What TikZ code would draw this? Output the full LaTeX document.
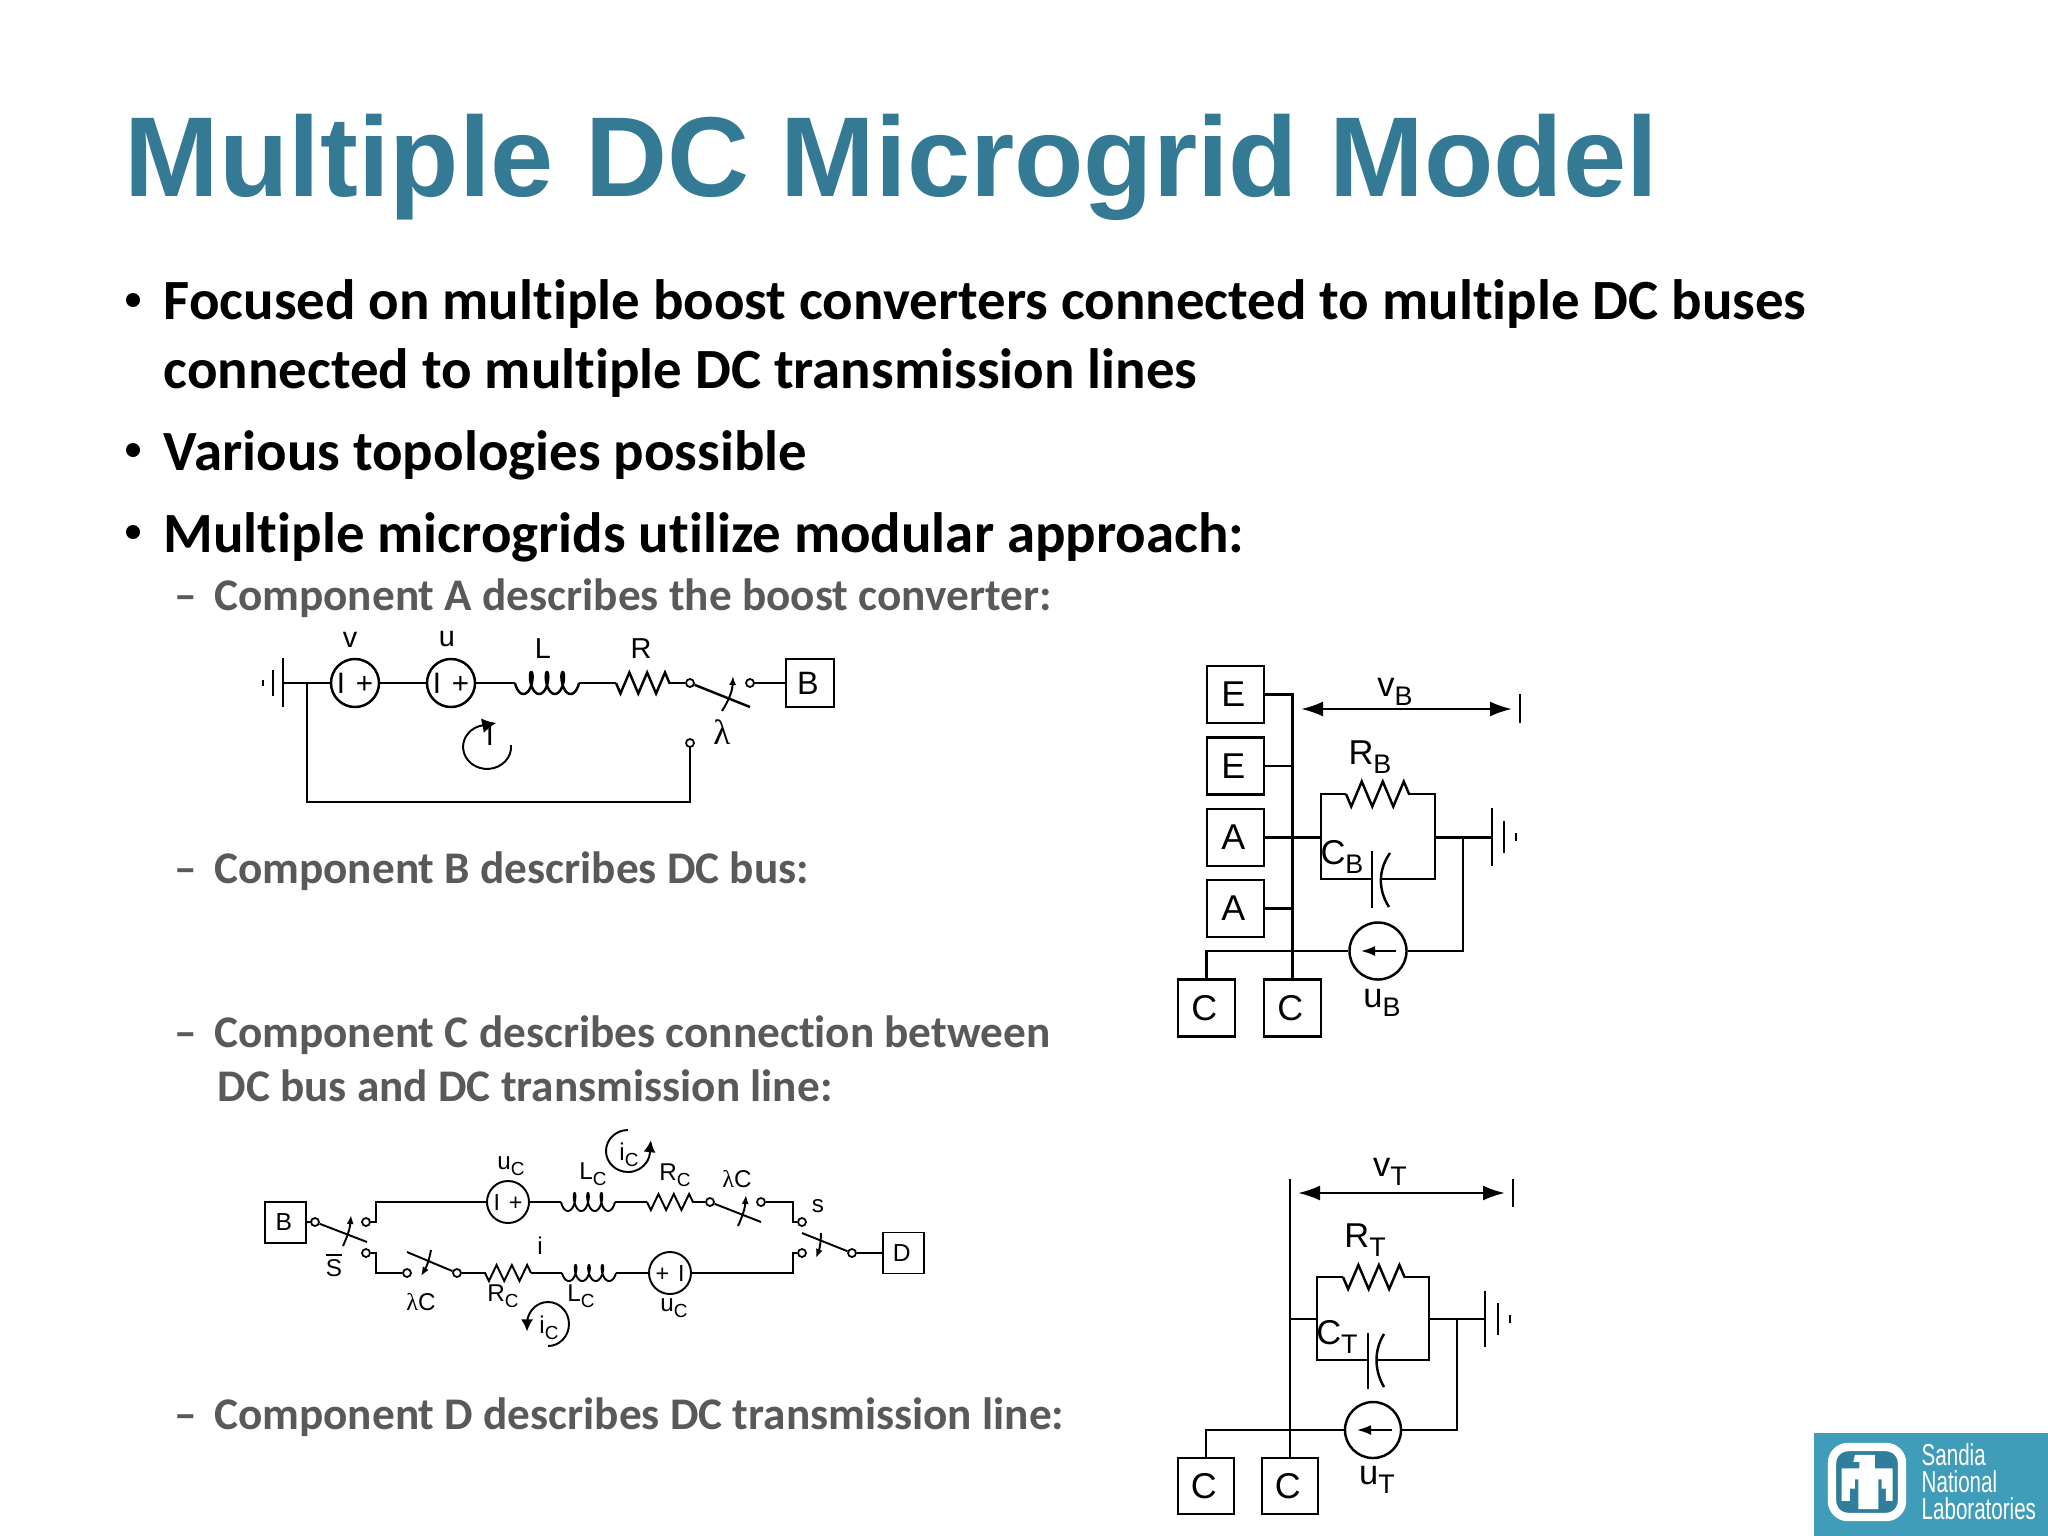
\documentclass[tikz,border=0pt]{standalone}
\usepackage{fontspec}
\setmainfont{Liberation Sans}
\newfontfamily\slidefont[Ligatures=CommonOff]{Carlito}
\newfontfamily\logofont[FakeStretch=0.68]{Liberation Sans}
\newfontfamily\greekfont{Liberation Serif}
\usetikzlibrary{positioning,calc,arrows.meta,decorations.pathmorphing}
\definecolor{titleblue}{HTML}{347A94}
\definecolor{subgray}{HTML}{595959}
\definecolor{logoblue}{HTML}{3F9DB9}
\definecolor{logodark}{HTML}{2F7F9C}
\newcommand\dropsub[1]{\raisebox{-.5ex}{\scalebox{.78}{#1}}}
\newcommand\coilplot[6]{\draw[#1,variable=\t,domain=0:1260,samples=120] plot ({#2+(#4-2*#6)*(\t/1260)+#6*(1-cos(\t))},{#3+#5*sin(\t)});}
\tikzset{
  title/.style={anchor=base west, inner sep=0pt, text=titleblue, font=\fontsize{32.3}{36}\selectfont\bfseries},
  bullet/.style={anchor=base west, inner sep=0pt, font=\fontsize{16.17}{18}\selectfont\slidefont\bfseries},
  subitem/.style={anchor=base west, inner sep=0pt, text=subgray, font=\fontsize{12.87}{14}\selectfont\slidefont\bfseries},
  dot/.style={circle, fill=black, inner sep=0pt, minimum size=.14cm},
  wire/.style={line width=.7pt},
  fine/.style={line width=.55pt},
  zig/.style 2 args={decorate, decoration={zigzag, segment length=#1, amplitude=-#2}},
  blockA/.style={draw, line width=.7pt, minimum size=.48cm, inner sep=0pt, execute at end node=\kern1.2pt, font=\fontsize{9.2}{10}\selectfont},
  blockB/.style={draw, line width=.7pt, minimum size=.57cm, inner sep=0pt, execute at end node=\kern1.2pt, font=\fontsize{10.2}{11}\selectfont},
  blockC/.style={draw, line width=.55pt, minimum size=.41cm, inner sep=0pt, execute at end node=\kern1pt, font=\fontsize{7}{8}\selectfont},
  srcA/.style={draw, circle, line width=.7pt, minimum size=.48cm, inner sep=0pt, font=\fontsize{8.4}{9}\selectfont},
  srcB/.style={draw, circle, line width=.7pt, minimum size=.57cm, inner sep=0pt},
  srcC/.style={draw, circle, line width=.55pt, minimum size=.42cm, inner sep=0pt, font=\fontsize{6.6}{7}\selectfont},
  term/.style={draw, circle, fill=white, line width=.5pt, minimum size=.08cm, inner sep=0pt},
  lblA/.style={inner sep=0pt, font=\fontsize{8.2}{9}\selectfont},
  lblB/.style={inner sep=0pt, font=\fontsize{9.8}{10}\selectfont},
  lblC/.style={inner sep=0pt, font=\fontsize{6.9}{7}\selectfont},
  small/.style={-{Latex[length=.09cm,width=.07cm]}},
  big/.style={-{Latex[length=.14cm,width=.15cm]}},
  span/.style={{Latex[length=.22cm,width=.15cm]}-{Latex[length=.22cm,width=.15cm]}, line width=.7pt},
  logotext/.style={anchor=base west, inner sep=0pt, text=white, font=\fontsize{8.6}{9}\selectfont\logofont},
}

\begin{document}
\begin{tikzpicture}[x=.01cm, y=-.01cm]
    \useasboundingbox[fill=white] (0,0) rectangle (2048,1536);

    % slide text
    \node[title]   (head)  at (124,196)  {Multiple DC Microgrid Model};
    \node[dot]     (d1)    at (133,300)  {};
    \node[bullet]  (b1)    at (163,319)  {Focused on multiple boost converters connected to multiple DC buses};
    \node[bullet]  (b1x)   at (163,388)  {connected to multiple DC transmission lines};
    \node[dot]     (d2)    at (133,450)  {};
    \node[bullet]  (b2)    at (163,470)  {Various topologies possible};
    \node[dot]     (d3)    at (133,532)  {};
    \node[bullet]  (b3)    at (163,552)  {Multiple microgrids utilize modular approach:};
    \node[subitem] (s1)    at (174,610)  {–\hspace{.17cm}Component A describes the boost converter:};
    \node[subitem] (s2)    at (174,883)  {–\hspace{.17cm}Component B describes DC bus:};
    \node[subitem] (s3)    at (174,1047) {–\hspace{.17cm}Component C describes connection between};
    \node[subitem] (s3x)   at (217,1101) {DC bus and DC transmission line:};
    \node[subitem] (s4)    at (174,1429) {–\hspace{.17cm}Component D describes DC transmission line:};

    % component A
    \coordinate (ag)  at (283,683);
    \coordinate (aj)  at (307,683);
    \node[srcA] (av) at (355,683) {I\hspace{.11cm}+};
    \node[srcA] (au) at (451,683) {I\hspace{.11cm}+};
    \coordinate (al1) at (515,683);
    \coordinate (al2) at (579,683);
    \coordinate (ar1) at (616,683);
    \coordinate (ar2) at (670,683);
    \node[term] (at1) at (690,683) {};
    \node[term] (at2) at (750,683) {};
    \node[term] (at3) at (690,743) {};
    \coordinate (ablade) at (750,707);
    \coordinate (abot) at (690,802);
    \node[blockA] (ab) at (810,683) {B};
    \draw[wire] (ag) -- (av);
    \draw[wire] (av) -- (au);
    \draw[wire] (au) -- (al1);
    \coilplot{wire}{515}{683}{64}{11}{4.5}
    \draw[wire] (al2) -- (ar1);
    \draw[wire,zig={.178cm}{.105cm}] (ar1) -- (ar2);
    \draw[wire] (ar2) -- (at1);
    \draw[wire] (at1) -- (ablade);
    \draw[wire] (at2) -- (ab);
    \draw[wire] (at3) -- (abot) -- (aj |- abot) -- (aj);
    \draw[wire] (283,658) -- (283,707);
    \draw[wire] (273,670) -- (273,696);
    \draw[wire] (263,680) -- (263,686);
    \draw[fine,small] (722,711) to[bend right=15] (733,676);
    \draw[fine,big] (511,745) arc[start angle=-5, end angle=268, x radius=24, y radius=22] -- ++(10,-2);
    \node[lblA] (av1) at (350,640) {v};
    \node[lblA] (au1) at (447,639) {u};
    \node[lblA] (al3) at (543,649) {L};
    \node[lblA] (ar3) at (641,649) {R};
    \node[lblA] (ai)  at (490,736) {I};
    \node[lblA,font=\fontsize{10}{11}\selectfont] (ala) at (722,732) {\greekfont λ};

    % component B
    \node[blockB] (be1) at (1235.5,694.5) {E};
    \node[blockB] (be2) at (1235.5,766) {E};
    \node[blockB] (ba1) at (1235.5,837.5) {A};
    \node[blockB] (ba2) at (1235.5,908.5) {A};
    \node[blockB] (bc1) at (1206.5,1008) {C};
    \node[blockB] (bc2) at (1292.5,1008) {C};
    \coordinate (bbus) at (1292.5,694.5);
    \coordinate (bl) at (1321,837.5);
    \coordinate (bx) at (1435,837.5);
    \coordinate (bj) at (1463,837.5);
    \coordinate (bg) at (1492,837.5);
    \coordinate (br1) at (1346,794);
    \coordinate (br2) at (1410,794);
    \coordinate (bp1) at (1372,879);
    \coordinate (bp2) at (1381,879);
    \node[srcB] (bu) at (1378,951) {};
    \draw[wire] (be1) -- (bbus) -- (bc2);
    \draw[wire] (be2) -- (be2 -| bbus);
    \draw[wire] (ba1) -- (bl);
    \draw[wire] (ba2) -- (ba2 -| bbus);
    \draw[wire] (bl) |- (br1);
    \draw[wire,zig={.21cm}{.125cm}] (br1) -- (br2);
    \draw[wire] (br2) -| (bx);
    \draw[wire] (bl) |- (bp1);
    \draw[wire] (bp2) -| (bx);
    \draw[wire] (bx) -- (bg);
    \draw[wire] (bj) |- (bu);
    \draw[wire] (bu) -| (bc1);
    \draw[wire] (1372,851) -- (1372,908);
    \draw[wire] (1390,853) .. controls (1378,870) and (1378,890) .. (1389,907);
    \draw[wire] (1492,808) -- (1492,866);
    \draw[wire] (1504,821) -- (1504,853);
    \draw[wire] (1516,833) -- (1516,841);
    \draw[fine,-{Latex[length=.14cm,width=.1cm]}] (1396,951) -- (1361,951);
    \draw[span] (1301,709) -- (1512,709);
    \draw[wire] (1520,694) -- (1520,723);
    \node[lblB] (bv1) at (1395,692) {v\dropsub{B}};
    \node[lblB] (br3) at (1370,757) {R\dropsub{B}};
    \node[lblB] (bc3) at (1342,857) {C\dropsub{B}};
    \node[lblB] (bu1) at (1382,1003) {u\dropsub{B}};

    % component C
    \node[blockC] (cb) at (285.5,1222.5) {B};
    \node[blockC] (cd) at (903.5,1253) {D};
    \node[term] (ct1) at (315,1222) {};
    \node[term] (ct2) at (366,1222) {};
    \node[term] (ct3) at (366,1253) {};
    \coordinate (cblade1) at (367,1242);
    \node[srcC] (cu1) at (508,1202) {I\hspace{.09cm}+};
    \coordinate (cl1) at (561,1202);
    \coordinate (cl2) at (615,1202);
    \coordinate (cr1) at (647,1202);
    \coordinate (cr2) at (693,1202);
    \node[term] (ct4) at (710,1202) {};
    \node[term] (ct5) at (761,1202) {};
    \coordinate (cblade2) at (761,1222);
    \node[term] (ct6) at (802,1222) {};
    \node[term] (ct7) at (802,1253) {};
    \node[term] (ct8) at (852,1253) {};
    \coordinate (cblade3) at (802,1233);
    \node[srcC] (cu2) at (670,1273) {+\hspace{.09cm}I};
    \coordinate (cl3) at (616,1273);
    \coordinate (cl4) at (562,1273);
    \coordinate (cr3) at (531,1273);
    \coordinate (cr4) at (485,1273);
    \node[term] (ct9) at (457,1273) {};
    \node[term] (ct10) at (407,1273) {};
    \coordinate (cblade4) at (407,1252);
    \draw[fine] (cb) -- (ct1);
    \draw[fine] (ct1) -- (cblade1);
    \draw[fine] (ct2) -- (376,1222) |- (cu1);
    \draw[fine] (cu1) -- (cl1);
    \coilplot{fine}{561}{1202}{54}{9}{3.5}
    \draw[fine] (cl2) -- (cr1);
    \draw[fine,zig={.153cm}{.08cm}] (cr1) -- (cr2);
    \draw[fine] (cr2) -- (ct4);
    \draw[fine] (ct4) -- (cblade2);
    \draw[fine] (ct5) -- (793,1202) |- (ct6);
    \draw[fine] (ct8) -- (cblade3);
    \draw[fine] (ct8) -- (cd);
    \draw[fine] (ct7) -- (793,1253) |- (cu2);
    \draw[fine] (cu2) -- (cl3);
    \coilplot{fine}{562}{1273}{54}{8}{3.5}
    \draw[fine] (cl4) -- (cr3);
    \draw[fine,zig={.153cm}{.08cm}] (cr3) -- (cr4);
    \draw[fine] (cr4) -- (ct9);
    \draw[fine] (ct9) -- (cblade4);
    \draw[fine] (ct10) -- (376,1273) |- (ct3);
    \draw[fine,small] (343,1246) to[bend right=10] (351,1215);
    \draw[fine,small] (431,1250) to[bend left=10] (421,1276);
    \draw[fine,small] (738,1226) to[bend right=10] (746,1195);
    \draw[fine,small] (821,1233) to[bend left=10] (816,1258);
    \draw[fine,-{Latex[length=.12cm,width=.12cm]}] (628,1130) arc[start angle=270, end angle=-5, x radius=22, y radius=21] -- ++(1,-9);
    \draw[fine,-{Latex[length=.12cm,width=.12cm]}] (548,1346) arc[start angle=90, end angle=-176, x radius=21, y radius=22] -- ++(0,9);
    \node[lblC] (cs1) at (334,1265) {$\overline{\mbox{S}}$};
    \node[lblC] (cla1) at (421,1302) {{\greekfont λ}C};
    \node[lblC] (cr5) at (503,1296) {R\dropsub{C}};
    \node[lblC] (cl5) at (581,1296) {L\dropsub{C}};
    \node[lblC] (cu3) at (674,1308) {u\dropsub{C}};
    \node[lblC] (ci1) at (540,1246) {i};
    \node[lblC] (cu4) at (511,1166) {u\dropsub{C}};
    \node[lblC] (cl6) at (593,1174) {L\dropsub{C}};
    \node[lblC] (cr6) at (675,1175) {R\dropsub{C}};
    \node[lblC] (cla2) at (737,1179) {{\greekfont λ}C};
    \node[lblC] (cs2) at (818,1206) {s};
    \node[lblC] (ci2) at (629,1155) {i\dropsub{C}};
    \node[lblC] (ci3) at (549,1328) {i\dropsub{C}};

    % component D
    \node[blockB,minimum size=.56cm] (dc1) at (1206,1486) {C};
    \node[blockB,minimum size=.56cm] (dc2) at (1290,1486) {C};
    \coordinate (dtop) at (1290,1179);
    \coordinate (dl) at (1317,1319);
    \coordinate (dx) at (1429,1319);
    \coordinate (dj) at (1457,1319);
    \coordinate (dg) at (1485,1319);
    \coordinate (dr1) at (1343,1277);
    \coordinate (dr2) at (1405,1277);
    \coordinate (dp1) at (1368,1360);
    \coordinate (dp2) at (1378,1360);
    \node[srcB,minimum size=.56cm] (du) at (1373,1430) {};
    \draw[wire] (dtop) -- (dc2);
    \draw[wire] (dtop |- dl) -- (dl);
    \draw[wire] (dl) |- (dr1);
    \draw[wire,zig={.205cm}{.12cm}] (dr1) -- (dr2);
    \draw[wire] (dr2) -| (dx);
    \draw[wire] (dl) |- (dp1);
    \draw[wire] (dp2) -| (dx);
    \draw[wire] (dx) -- (dg);
    \draw[wire] (dj) |- (du);
    \draw[wire] (du) -| (dc1);
    \draw[wire] (1368,1333) -- (1368,1389);
    \draw[wire] (1384,1334) .. controls (1374,1350) and (1374,1370) .. (1384,1387);
    \draw[wire] (1485,1291) -- (1485,1347);
    \draw[wire] (1498,1303) -- (1498,1335);
    \draw[wire] (1510,1315) -- (1510,1323);
    \draw[fine,-{Latex[length=.14cm,width=.1cm]}] (1392,1430) -- (1357,1430);
    \draw[span] (1298,1193) -- (1505,1193);
    \draw[wire] (1513,1179) -- (1513,1207);
    \node[lblB] (dv1) at (1390,1172) {v\dropsub{T}};
    \node[lblB] (dr3) at (1365,1240) {R\dropsub{T}};
    \node[lblB] (dc3) at (1337,1337) {C\dropsub{T}};
    \node[lblB] (du1) at (1377,1480) {u\dropsub{T}};

    % logo
    \fill[logoblue] (1814,1433) rectangle (2048,1536);
    \draw[white, line width=2.4pt, fill=logodark, rounded corners=.16cm] (1832,1447) rectangle (1902,1517);
    \begin{scope}[shift={(1820,1436)}, x=.00333cm, y=-.00333cm]
      \fill[white] (105,57) -- (165,57) -- (165,97) -- (218,97) -- (218,195) -- (198,195) -- (198,158)
        -- (185,158) -- (185,130) -- (175,130) -- (175,220) -- (115,220) -- (115,130) -- (105,130)
        -- (105,158) -- (90,158) -- (90,195) -- (65,195) -- (65,97) -- (118,97) -- (118,78) -- (100,78) -- cycle;
    \end{scope}
    \node[logotext] (l1) at (1921,1465) {Sandia};
    \node[logotext] (l2) at (1921,1492) {National};
    \node[logotext] (l3) at (1921,1519) {Laboratories};
\end{tikzpicture}
\end{document}
